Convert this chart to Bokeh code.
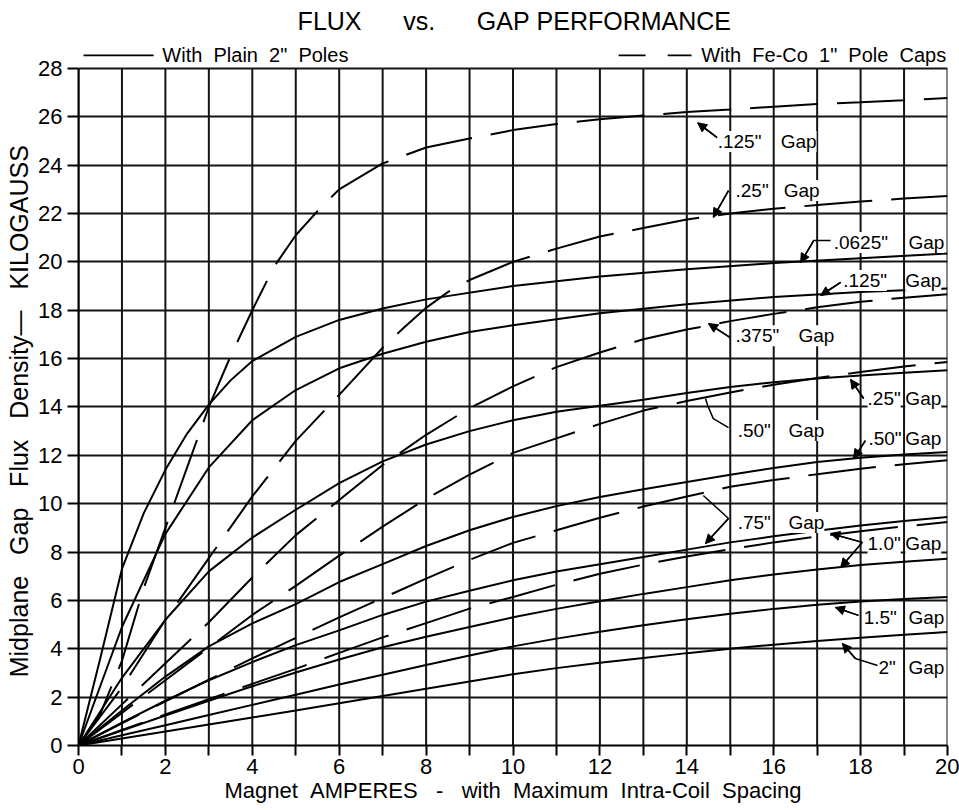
from bokeh.plotting import figure
from bokeh.models import FixedTicker, Label, Arrow, NormalHead
from bokeh.embed import file_html
from bokeh.resources import INLINE

NB = "\u00a0"
FONT = "Liberation Sans"

# ---------------- data ----------------
amps = list(range(21))
y_bottom, y_top = 0, 28

# Solid curves: "With Plain 2\" Poles"
plain_0625_x = [0, 0.5, 1, 1.5, 2, 2.5, 3, 3.5, 4, 5, 6, 7, 8, 10, 12, 14, 16, 18, 20]
plain_0625_y = [0, 3.6, 7.3, 9.6, 11.4, 12.9, 14.1, 15.1, 15.9, 16.9, 17.6, 18.07, 18.45,
                19.0, 19.4, 19.7, 19.95, 20.15, 20.35]
plain_125_x = [0, 1, 2, 3, 4, 5, 6, 7, 8, 9, 10, 12, 14, 16, 18, 20]
plain_125_y = [0, 4.9, 8.75, 11.5, 13.45, 14.7, 15.6, 16.2, 16.7, 17.1, 17.38, 17.88,
               18.25, 18.55, 18.75, 18.9]
plain_25_y = [0, 2.8, 5.2, 7.2, 8.6, 9.75, 10.85, 11.75, 12.45, 13.0, 13.45, 13.8, 14.05,
              14.3, 14.58, 14.83, 15.02, 15.18, 15.3, 15.42, 15.52]
plain_50_y = [0, 1.45, 2.85, 4.1, 5.05, 5.85, 6.76, 7.5, 8.25, 8.9, 9.45, 9.9, 10.28,
              10.6, 10.9, 11.2, 11.48, 11.72, 11.9, 12.03, 12.14]
plain_75_y = [0, 0.95, 1.85, 2.7, 3.45, 4.15, 4.76, 5.4, 5.95, 6.4, 6.83, 7.2, 7.5, 7.8,
              8.1, 8.4, 8.65, 8.88, 9.1, 9.28, 9.45]
plain_10_y = [0, 0.62, 1.24, 1.85, 2.45, 3.02, 3.56, 4.06, 4.5, 4.9, 5.3, 5.65, 5.97,
              6.27, 6.55, 6.83, 7.07, 7.28, 7.46, 7.6, 7.72]
plain_15_y = [0, 0.42, 0.84, 1.26, 1.68, 2.1, 2.52, 2.93, 3.33, 3.72, 4.1, 4.42, 4.7,
              4.97, 5.22, 5.45, 5.65, 5.82, 5.96, 6.06, 6.14]
plain_20_y = [0, 0.29, 0.58, 0.87, 1.16, 1.45, 1.75, 2.05, 2.35, 2.65, 2.95, 3.2, 3.42,
              3.62, 3.82, 4.0, 4.17, 4.32, 4.46, 4.58, 4.69]

# Dashed curves: "With Fe-Co 1\" Pole Caps"
feco_125_x = [0, 0.5, 1, 1.5, 2, 2.5, 3, 3.5, 4, 4.5, 5, 5.5, 6, 7, 8, 9, 10, 11, 12, 13,
              14, 15, 16, 17, 18, 19, 20]
feco_125_y = [0, 1.3, 3.5, 6.5, 9.0, 11.5, 14.0, 16.1, 18.0, 19.8, 21.1, 22.1, 23.0,
              24.07, 24.73, 25.1, 25.45, 25.7, 25.9, 26.05, 26.2, 26.3, 26.42, 26.53,
              26.6, 26.68, 26.78]
feco_25_x = [0, 1, 2, 3, 4, 5, 6, 7, 7.5, 8, 8.5, 9, 10, 11, 12, 13, 14, 15, 16, 17, 18,
             19, 20]
feco_25_y = [0, 2.4, 5.2, 7.75, 10.3, 12.6, 14.5, 16.45, 17.3, 18.1, 18.75, 19.25, 20.0,
             20.55, 21.05, 21.4, 21.75, 22.0, 22.2, 22.35, 22.5, 22.62, 22.72]
feco_375_y = [0, 1.7, 3.4, 5.1, 6.95, 8.7, 10.15, 11.6, 12.85, 13.95, 14.85, 15.65,
              16.25, 16.8, 17.2, 17.55, 17.85, 18.12, 18.35, 18.52, 18.66]
feco_50_y = [0, 1.35, 2.7, 4.05, 5.4, 6.6, 7.85, 9.05, 10.2, 11.2, 12.1, 12.7, 13.3,
             13.85, 14.25, 14.6, 14.92, 15.2, 15.45, 15.67, 15.86]
feco_75_y = [0, 0.92, 1.83, 2.72, 3.6, 4.45, 5.3, 6.1, 6.9, 7.68, 8.38, 8.9, 9.42, 9.88,
             10.3, 10.7, 10.98, 11.22, 11.45, 11.63, 11.8]
feco_10_y = [0, 0.64, 1.28, 1.92, 2.55, 3.17, 3.83, 4.47, 5.06, 5.66, 6.14, 6.65, 7.1,
             7.48, 7.82, 8.12, 8.4, 8.64, 8.86, 9.06, 9.24]

# Curve labels
gap_label_text = ['.125"', '.25"', '.0625"', '.125"', '.375"', '.50"', '.25"', '.50"',
                  '.75"', '1.0"', '1.5"', '2"']
gap_label_x = [14.71, 15.12, 17.38, 17.6, 15.12, 15.17, 18.16, 18.18, 15.17, 18.16, 18.07, 18.41]
gap_word_x = [16.16, 16.23, 19.1, 19.03, 16.57, 16.34, 19.03, 19.03, 16.34, 19.03, 19.1, 19.1]
gap_label_y = [24.98, 22.95, 20.8, 19.23, 16.95, 13.03, 14.35, 12.7, 9.22, 8.35, 5.3, 3.23]

# Leader lines: (xs, ys, arrowhead)
leaders = [
    ([14.70, 14.25], [25.14, 25.75], True),
    ([14.96, 14.61], [22.95, 21.84], True),
    ([17.31, 16.92, 16.62], [20.88, 20.88, 19.97], True),
    ([17.54, 17.08], [19.15, 18.61], True),
    ([15.00, 14.50], [16.87, 17.45], True),
    ([14.96, 14.61, 14.48, 14.43], [13.15, 13.52, 14.06, 14.35], False),
    ([18.07, 17.77], [14.35, 15.14], True),
    ([18.11, 17.84], [12.61, 11.87], True),
    ([14.96, 14.38], [9.39, 10.34], False),
    ([14.96, 14.43], [9.39, 8.35], True),
    ([18.04, 17.31], [8.40, 8.77], True),
    ([18.04, 17.54], [8.40, 7.36], True),
    ([17.95, 17.42], [5.38, 5.71], True),
    ([18.39, 17.88, 17.58], [3.31, 3.60, 4.22], True),
]

# Key (above the grid)
key_y = 28.54
key_solid_x = [0.115, 1.73]
key_dash_x = [[12.43, 13.05], [13.56, 14.11]]
key_plain_x = 1.93
key_feco_x = 19.97
title_x, title_y = 10.03, 29.98

x_major = list(range(0, 21, 2))
x_minor = list(range(1, 20, 2))
y_major = list(range(0, 29, 2))

title_text = "FLUX" + NB * 6 + "vs." + NB * 6 + "GAP" + NB + "PERFORMANCE"
legend_plain = "With" + NB * 2 + "Plain" + NB * 2 + '2"' + NB * 2 + "Poles"
legend_feco = "With" + NB * 2 + "Fe-Co" + NB * 2 + '1"' + NB * 2 + "Pole" + NB * 2 + "Caps"
x_label = ("Magnet" + NB * 2 + "AMPERES" + NB * 3 + "-" + NB * 3 + "with" + NB * 2 + "Maximum"
           + NB * 2 + "Intra-Coil" + NB * 2 + "Spacing")
# trailing spaces keep the label centred on the 0-28 scale rather than on the whole frame
y_label = ("Midplane" + NB * 3 + "Gap" + NB * 3 + "Flux" + NB * 3 + "Density\u2014" + NB * 3
           + "KILOGAUSS" + NB * 11)

# ---------------- figure ----------------
p = figure(width=959, height=810, x_range=(0, 20), y_range=(0, 30.81),
           output_backend="svg", toolbar_location=None,
           min_border_left=78, min_border_right=12, min_border_top=0, min_border_bottom=65)

p.outline_line_color = None
p.background_fill_color = "white"
p.border_fill_color = "white"

p.xaxis.ticker = FixedTicker(ticks=x_major, minor_ticks=x_minor)
p.yaxis.ticker = FixedTicker(ticks=y_major)
p.yaxis.bounds = (y_bottom, y_top)
p.xgrid.visible = False
p.ygrid.ticker = FixedTicker(ticks=y_major)
p.ygrid.grid_line_color = "#141414"
p.ygrid.grid_line_width = 2
p.ygrid.grid_line_alpha = 1

# vertical grid lines, one per ampere, stopping at the top of the scale
p.segment(x0=amps, y0=[y_bottom] * len(amps), x1=amps, y1=[y_top] * len(amps),
          line_color="#141414", line_width=2)

for ax in (p.xaxis, p.yaxis):
    ax.axis_line_color = "black"
    ax.axis_line_width = 2
    ax.major_tick_line_color = "black"
    ax.major_tick_line_width = 2
    ax.major_tick_in = 0
    ax.minor_tick_line_color = "black"
    ax.minor_tick_line_width = 2
    ax.minor_tick_in = 0
    ax.major_label_text_font = FONT
    ax.major_label_text_font_size = "22px"
    ax.major_label_text_color = "black"
    ax.axis_label_text_font = FONT
    ax.axis_label_text_font_style = "normal"
    ax.axis_label_text_color = "black"

p.xaxis.major_tick_out = 10
p.xaxis.minor_tick_out = 10
p.xaxis.major_label_standoff = 3
p.xaxis.axis_label = x_label
p.xaxis.axis_label_text_font_size = "22px"
p.xaxis.axis_label_standoff = 1

p.yaxis.major_tick_out = 11
p.yaxis.minor_tick_out = 0
p.yaxis.major_label_standoff = 5
p.yaxis.axis_label = y_label
p.yaxis.axis_label_text_font_size = "25px"
p.yaxis.axis_label_standoff = 2

# ---------------- curves ----------------
LW = 2
DASH = "68 19"
p.line(plain_0625_x, plain_0625_y, line_color="black", line_width=LW)
p.line(plain_125_x, plain_125_y, line_color="black", line_width=LW)
for ys in (plain_25_y, plain_50_y, plain_75_y, plain_10_y, plain_15_y, plain_20_y):
    p.line(amps, ys, line_color="black", line_width=LW)

p.line(feco_125_x, feco_125_y, line_color="black", line_width=LW, line_dash=DASH)
p.line(feco_25_x, feco_25_y, line_color="black", line_width=LW, line_dash=DASH)
for ys in (feco_375_y, feco_50_y, feco_75_y, feco_10_y):
    p.line(amps, ys, line_color="black", line_width=LW, line_dash=DASH)

# ---------------- leaders ----------------
for xs, ys, head in leaders:
    p.line(xs, ys, line_color="black", line_width=1.5)
    if head:
        p.add_layout(Arrow(end=NormalHead(size=9, line_color="black", fill_color="black",
                                          line_width=1),
                           x_start=xs[-2], y_start=ys[-2], x_end=xs[-1], y_end=ys[-1],
                           line_color="black", line_width=1.5))

# ---------------- curve labels ----------------
for t, x1, x2, y in zip(gap_label_text, gap_label_x, gap_word_x, gap_label_y):
    p.add_layout(Label(x=x1, y=y, text=t, text_font=FONT, text_font_size="19px",
                       text_baseline="middle", text_align="left", text_color="black",
                       background_fill_color="white"))
    p.add_layout(Label(x=x2, y=y, text="Gap", text_font=FONT, text_font_size="19px",
                       text_baseline="middle", text_align="left", text_color="black",
                       background_fill_color="white"))

# ---------------- title and key above the grid ----------------
p.add_layout(Label(x=title_x, y=title_y, text=title_text, text_font=FONT,
                   text_font_size="25px", text_align="center", text_baseline="middle",
                   text_color="black"))
p.add_layout(Label(x=key_plain_x, y=key_y, text=legend_plain, text_font=FONT,
                   text_font_size="20px", text_align="left", text_baseline="middle",
                   text_color="black"))
p.add_layout(Label(x=key_feco_x, y=key_y, text=legend_feco, text_font=FONT,
                   text_font_size="20px", text_align="right", text_baseline="middle",
                   text_color="black"))
p.line(key_solid_x, [key_y, key_y], line_color="black", line_width=1.6)
for seg in key_dash_x:
    p.line(seg, [key_y, key_y], line_color="black", line_width=1.6)

open("out.html", "w").write(file_html(p, INLINE))
